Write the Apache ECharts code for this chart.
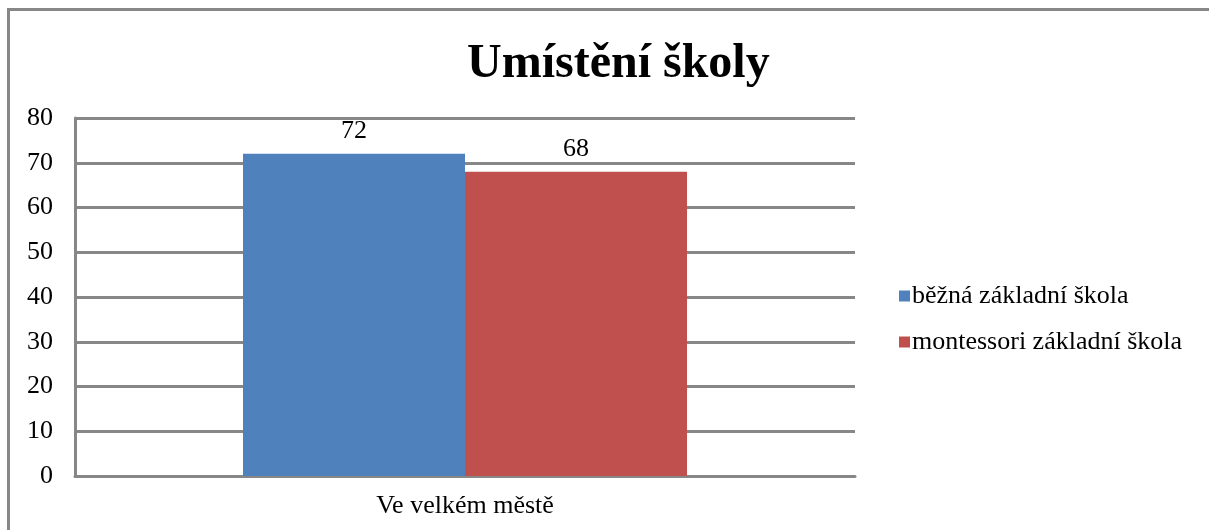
<!DOCTYPE html>
<html lang="cs">
  <head>
    <meta charset="UTF-8" />
    <title>Umístění školy</title>
    <script src="https://cdn.jsdelivr.net/npm/echarts@6/dist/echarts.min.js"></script>
    <style>
      body { margin: 0; background: #fff; }
      #frame {
        position: absolute; left: 7px; top: 8px; right: 0; bottom: 0;
        border-top: 3px solid #878787; border-left: 3px solid #878787;
        pointer-events: none;
      }
    </style>
  </head>
  <body>
    <div id="main" style="width: 1209px; height: 530px"></div>
    <div id="frame"></div>
    <script type="text/javascript">
      var categories = ["Ve velkém městě"];
      var seriesNames = ["běžná základní škola", "montessori základní škola"];
      var bezna = [72];
      var montessori = [68];
      var yTicks = [0, 10, 20, 30, 40, 50, 60, 70, 80];

      var chart = echarts.init(document.getElementById("main"));
      var font = "'Liberation Serif', 'Times New Roman', serif";

      var option = {
        animation: false,
        textStyle: { fontFamily: font },
        title: {
          text: "Umístění školy",
          left: 462,
          top: 36,
          textStyle: { fontFamily: font, fontSize: 48, fontWeight: "bold", color: "#000" }
        },
        legend: {
          orient: "vertical",
          left: 894,
          top: 278,
          itemWidth: 11,
          itemHeight: 11,
          itemGap: 20,
          textStyle: { fontFamily: font, fontSize: 26, color: "#000", padding: [0, 0, 0, -3] },
          data: seriesNames.map(function (n) { return { name: n, icon: "rect" }; })
        },
        grid: { left: 75, right: 354, top: 118, bottom: 54, containLabel: false },
        xAxis: {
          type: "category",
          data: categories,
          axisLine: { lineStyle: { color: "#878787", width: 3 } },
          axisTick: { show: false },
          axisLabel: { fontFamily: font, fontSize: 26, color: "#000", margin: 17 }
        },
        yAxis: {
          type: "value",
          min: yTicks[0],
          max: yTicks[yTicks.length - 1],
          interval: 10,
          axisLine: { show: true, lineStyle: { color: "#878787", width: 3 } },
          axisTick: { show: false },
          splitLine: { lineStyle: { color: "#878787", width: 3 } },
          axisLabel: { fontFamily: font, fontSize: 26, color: "#000", margin: 22 }
        },
        series: [
          {
            name: seriesNames[0],
            type: "bar",
            data: bezna,
            barWidth: 222,
            barGap: "0%",
            itemStyle: { color: "#4F81BD" },
            label: { show: true, position: "top", fontFamily: font, fontSize: 26, color: "#000", distance: 10 }
          },
          {
            name: seriesNames[1],
            type: "bar",
            data: montessori,
            barWidth: 222,
            barGap: "0%",
            itemStyle: { color: "#C0504D" },
            label: { show: true, position: "top", fontFamily: font, fontSize: 26, color: "#000", distance: 10 }
          }
        ]
      };
      chart.setOption(option);
    </script>
  </body>
</html>
